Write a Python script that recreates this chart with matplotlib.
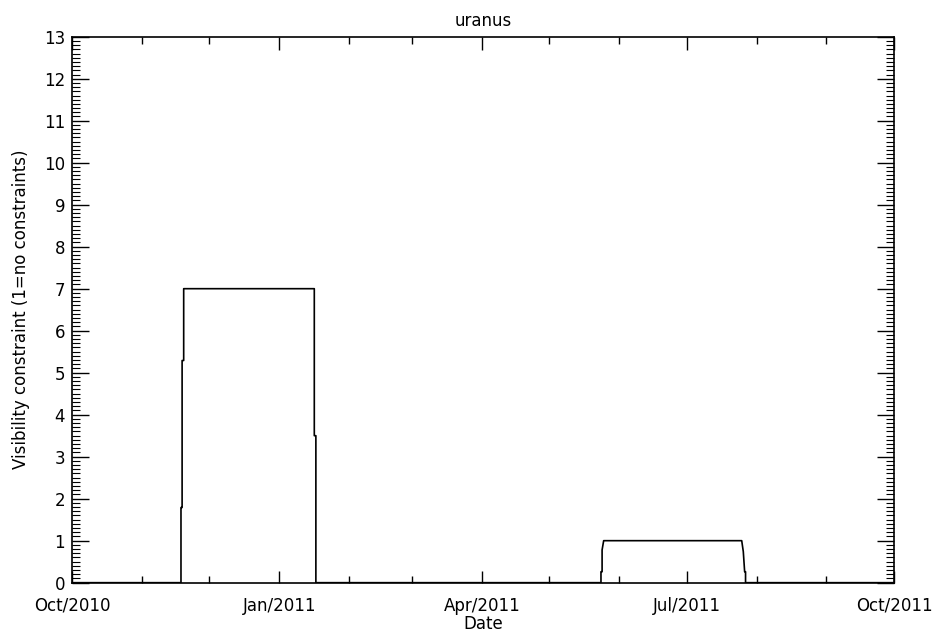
import numpy as np
import matplotlib
matplotlib.use("Agg")
import matplotlib.pyplot as plt
import matplotlib.dates as mdates
from matplotlib.ticker import MultipleLocator
import datetime as dt

# days since 2010-10-01 and visibility constraint value
start = dt.datetime(2010, 10, 1)
days = [0.0, 48.4, 48.4, 48.9, 48.9, 49.6, 49.6, 107.6, 107.6, 108.3, 108.3,
        234.9, 234.9, 235.4, 235.4, 236.1, 297.4, 298.1, 298.7, 299.1, 299.1, 365.0]
values = [0, 0, 1.79, 1.79, 5.29, 5.29, 7.0, 7.0, 3.5, 3.5, 0,
          0, 0.26, 0.26, 0.78, 1.0, 1.0, 0.74, 0.26, 0.26, 0, 0]

title = "uranus"
xlabel = "Date"
ylabel = "Visibility constraint (1=no constraints)"

x = mdates.date2num(start) + np.array(days)

fig = plt.figure(figsize=(9.41, 6.35), dpi=100)
ax = fig.add_axes([0.0765, 0.0824, 0.8735, 0.8598])
ax.plot(x, values, color='black', linewidth=1.2)

ax.set_xlim(mdates.date2num(dt.datetime(2010, 10, 1)), mdates.date2num(dt.datetime(2011, 10, 1)))
ax.set_ylim(0, 13)

ax.xaxis.set_major_locator(mdates.MonthLocator(bymonth=[1, 4, 7, 10]))
ax.xaxis.set_minor_locator(mdates.MonthLocator())
ax.xaxis.set_major_formatter(mdates.DateFormatter('%b/%Y'))
ax.yaxis.set_major_locator(MultipleLocator(1))
ax.yaxis.set_minor_locator(MultipleLocator(0.1))

ax.tick_params(axis='both', which='both', direction='in', top=True, right=True,
               labelsize=12, width=1)
ax.tick_params(axis='x', which='major', length=9, pad=10)
ax.tick_params(axis='x', which='minor', length=5)
ax.tick_params(axis='y', which='major', length=12, pad=5)
ax.tick_params(axis='y', which='minor', length=6, width=0.8)

for s in ax.spines.values():
    s.set_linewidth(1.2)

ax.set_title(title, fontsize=12, pad=8)
ax.set_xlabel(xlabel, fontsize=12, labelpad=0)
ax.set_ylabel(ylabel, fontsize=12, labelpad=10)

fig.savefig('out.png', dpi=100)
